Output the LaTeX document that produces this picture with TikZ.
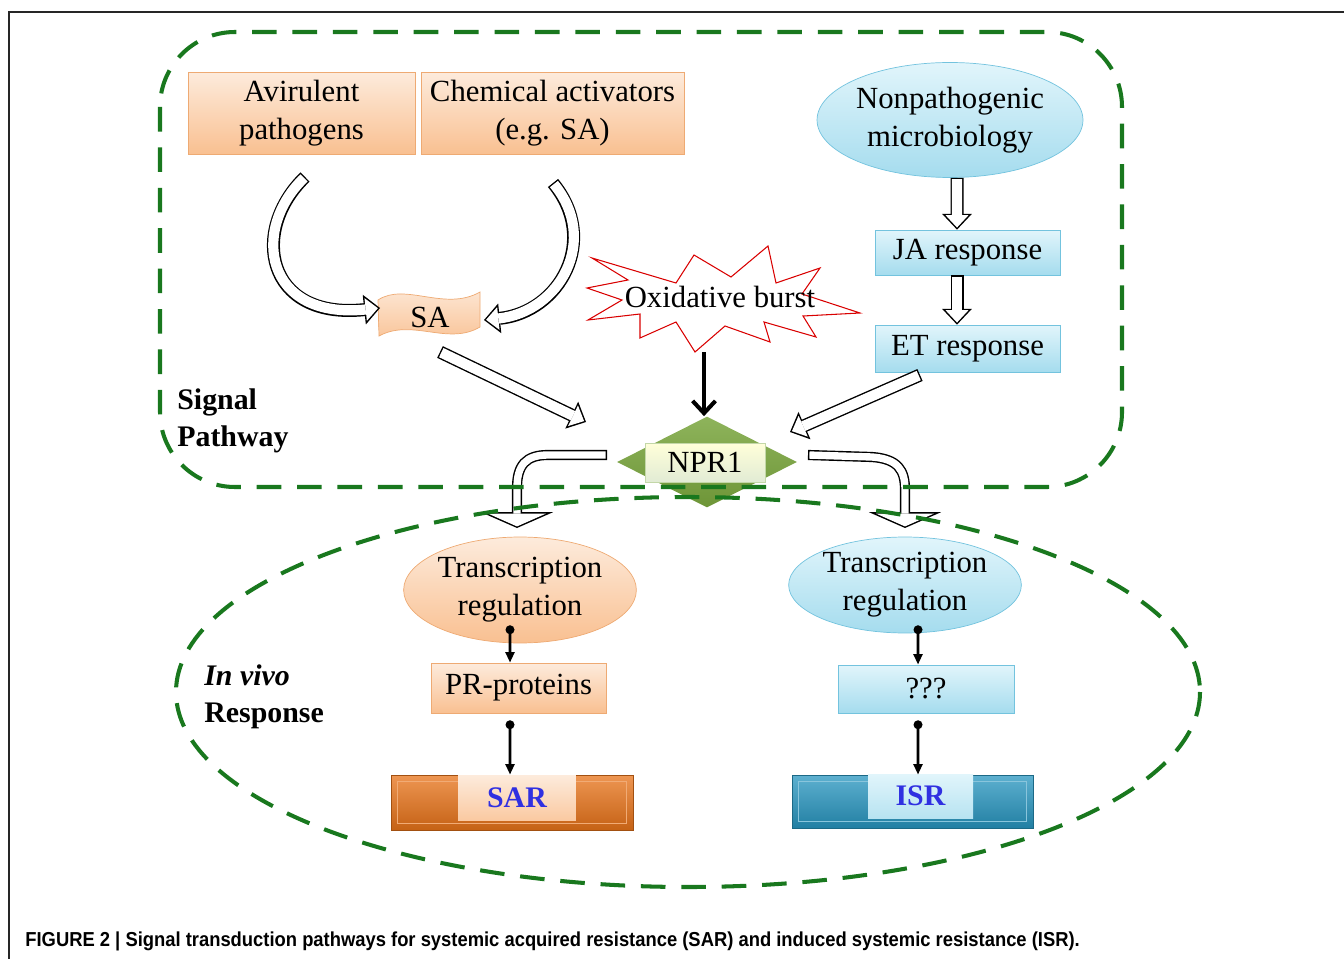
\documentclass[tikz,border=0pt]{standalone}
\usepackage{fontspec}
\setmainfont{Liberation Serif}
\newfontfamily\capfont[FakeStretch=0.91]{Liberation Sans}
\usetikzlibrary{shapes.geometric,arrows.meta}

\definecolor{sigframe}{RGB}{25,120,30}
\definecolor{orgtop}{RGB}{253,235,220}
\definecolor{orgbot}{RGB}{249,192,145}
\definecolor{orgline}{RGB}{238,170,115}
\definecolor{bluetop}{RGB}{225,245,251}
\definecolor{bluebot}{RGB}{165,220,238}
\definecolor{blueline}{RGB}{115,195,222}
\definecolor{nprgreen}{RGB}{122,166,62}
\definecolor{sarorange}{RGB}{232,115,25}
\definecolor{isrblue}{RGB}{40,150,192}
\definecolor{labblue}{RGB}{48,48,225}

\tikzset{
  orgbox/.style={rectangle, draw=orgline, top color=orgtop, bottom color=orgbot, align=center, inner sep=0pt},
  bluebox/.style={rectangle, draw=blueline, top color=bluetop, bottom color=bluebot, align=center, inner sep=0pt},
  dashframe/.style={draw=sigframe, line width=2.3pt, dash pattern=on 14pt off 9pt},
  hollowarrow/.style={draw=white, line width=5.8pt, shorten <=0.8pt, shorten >=1.2pt,
    -{Triangle[length=7pt,width=13pt,line width=0pt]},
    preaction={draw=black, line width=7.4pt, shorten <=0pt, shorten >=0pt,
      -{Triangle[length=9pt,width=17pt,line width=0pt]}}},
  widearrow/.style={draw=white, line width=4.2pt, shorten <=0.8pt, shorten >=0.9pt,
    -{Triangle[length=7.3pt,width=33pt,line width=0pt]},
    preaction={draw=black, line width=5.8pt, shorten <=0pt, shorten >=0pt,
      -{Triangle[length=9pt,width=41pt,line width=0pt]}}},
  dotarrow/.style={draw=black, line width=1.5pt, {Circle[length=5pt]}-{Triangle[length=6pt,width=5pt]}},
  labeltxt/.style={font=\bfseries\fontsize{17}{21.5}\selectfont, align=left, inner sep=0pt}
}

\begin{document}
\begin{tikzpicture}[x=0.02cm, y=-0.02cm, font=\fontsize{17.5}{21.5}\selectfont]
  \useasboundingbox (0,0) rectangle (1344,959);
  % frame
  \draw[line width=1.7pt, black!85] (1344,12) -- (9,12) -- (9,959);

  % signal pathway part
  \node[orgbox, minimum width=4.54cm, minimum height=1.64cm] (avir) at (301.5,113) {Avirulent\\pathogens};
  \node[orgbox, minimum width=5.26cm, minimum height=1.64cm] (chem) at (552.5,113) {Chemical activators\\(e.g. SA)};
  \node[ellipse, draw=blueline, top color=bluetop, bottom color=bluebot, align=center, inner sep=0pt,
    minimum width=5.32cm, minimum height=2.3cm] (nonpath) at (950,120) {Nonpathogenic\\microbiology};
  \node[bluebox, minimum width=3.7cm, minimum height=0.9cm] (ja) at (967.5,252.5) {JA response};
  \node[bluebox, minimum width=3.7cm, minimum height=0.94cm] (et) at (967.5,348.5) {ET response};

  \shade[top color=orgtop, bottom color=orgbot, draw=orgline]
    (378,300) .. controls (405,282) and (445,312) .. (480,292) -- (480,327)
    .. controls (448,346) and (412,318) .. (379,336) -- cycle;
  \node (sa) at (430,317) {SA};

  \draw[red!85!black, fill=white, line width=0.6pt] (592,258) -- (676,283) -- (694,255) -- (731,277)
    -- (768,246) -- (776,283) -- (820,268) -- (802,294) -- (860,313) -- (803,316) -- (816,337)
    -- (764,322) -- (770,342) -- (725,326) -- (695,352) -- (676,322) -- (640,338) -- (640,314)
    -- (588,320) -- (622,300) -- (587,288) -- (628,280) -- cycle;
  \node (burst) at (720,297) {Oxidative burst};

  \node[diamond, top color=nprgreen!85!white, bottom color=nprgreen!90!black, inner sep=0pt,
    minimum width=3.6cm, minimum height=1.82cm] (npr1) at (707,462) {};
  \node[rectangle, draw=nprgreen!45!white, top color=white!85!yellow, bottom color=nprgreen!22!white,
    minimum width=2.4cm, minimum height=0.78cm, inner sep=0pt] (nprlab) at (705,462.5) {NPR1};

  % in vivo part
  \node[ellipse, draw=orgline, top color=orgtop, bottom color=orgbot, align=center, inner sep=0pt,
    minimum width=4.2cm, minimum height=2.12cm] (trsar) at (520,590) {Transcription\\regulation};
  \node[ellipse, draw=blueline, top color=bluetop, bottom color=bluebot, align=center, inner sep=0pt,
    minimum width=4.3cm, minimum height=1.92cm] (trisr) at (905,585) {Transcription\\regulation};
  \node[orgbox, minimum width=3.5cm, minimum height=1.0cm] (pr) at (518.5,688) {PR-proteins};
  \node[bluebox, minimum width=3.52cm, minimum height=0.96cm] (unk) at (926,689) {???};

  \node[rectangle, draw=sarorange!70!black, top color=sarorange!75!white, bottom color=sarorange!85!black,
    minimum width=4.84cm, minimum height=1.1cm] (sarbar) at (512,802.5) {};
  \draw[sarorange!60!white, line width=0.8pt] ([xshift=4pt,yshift=-4pt]sarbar.north west) rectangle ([xshift=-4pt,yshift=4pt]sarbar.south east);
  \node[rectangle, top color=orgtop, bottom color=orgbot!85!white, minimum width=2.36cm, minimum height=0.9cm,
    inner sep=0pt, font=\bfseries\fontsize{17}{20}\selectfont, text=labblue] (sar) at (517,797.5) {SAR};
  \node[rectangle, draw=isrblue!70!black, top color=isrblue!75!white, bottom color=isrblue!85!black,
    minimum width=4.82cm, minimum height=1.06cm] (isrbar) at (912.5,801.5) {};
  \draw[isrblue!55!white, line width=0.8pt] ([xshift=4pt,yshift=-4pt]isrbar.north west) rectangle ([xshift=-4pt,yshift=4pt]isrbar.south east);
  \node[rectangle, top color=bluetop, bottom color=bluebot!80!white, minimum width=2.1cm, minimum height=0.88cm,
    inner sep=0pt, font=\bfseries\fontsize{17}{20}\selectfont, text=labblue] (isr) at (920.5,796) {ISR};

  % arrows
  \coordinate (avout) at (305,177);
  \coordinate (chout) at (553,183);
  \coordinate (sain) at (380,308);
  \coordinate (sain2) at (484,320);
  \draw[hollowarrow] (avout) .. controls (250,230) and (265,320) .. (sain);
  \draw[hollowarrow] (chout) .. controls (600,240) and (560,312) .. (sain2);
  \draw[hollowarrow] ([xshift=0.14cm]nonpath.south) -- ([xshift=-0.21cm]ja.north);
  \draw[hollowarrow] ([xshift=-0.21cm]ja.south) -- ([xshift=-0.21cm]et.north);

  \coordinate (saout) at (440,352);
  \coordinate (nprin1) at (586,422);
  \coordinate (etout) at (920,375);
  \coordinate (nprin2) at (790,432);
  \draw[hollowarrow] (saout) -- (nprin1);
  \draw[hollowarrow] (etout) -- (nprin2);

  \coordinate (burstout) at (704,352);
  \draw[line width=2.3pt, -{Straight Barb[length=7pt,width=13pt]}] (burstout) -- (npr1.north -| burstout);

  \coordinate (nprl) at (607,455);
  \coordinate (nprr) at (808,455);
  \coordinate (trsarin) at (517,528);
  \coordinate (trisrin) at (905,528);
  \draw[widearrow] (nprl) -- (548,455) .. controls (526,455) and (517,465) .. (517,488) -- (trsarin);
  \draw[widearrow] (nprr) -- (872,457) .. controls (898,459) and (905,470) .. (905,490) -- (trisrin);

  \draw[dotarrow] ([xshift=-0.2cm,yshift=0.36cm]trsar.south) -- ([xshift=-0.17cm]pr.north);
  \draw[dotarrow] ([xshift=-0.17cm,yshift=-0.14cm]pr.south) -- ([xshift=-0.04cm]sarbar.north);
  \draw[dotarrow] ([xshift=0.26cm,yshift=0.16cm]trisr.south) -- ([xshift=-0.16cm]unk.north);
  \draw[dotarrow] ([xshift=-0.16cm,yshift=-0.14cm]unk.south) -- ([xshift=0.11cm]isrbar.north);

  % dashed regions
  \draw[dashframe, rounded corners=1.5cm] (160,32) rectangle (1122,487);
  \draw[dashframe] (688,692) ellipse [x radius=512, y radius=195];

  \node[labeltxt, anchor=north west] (sigl) at (177,388) {Signal\\Pathway};
  \node[labeltxt, anchor=north west] (vivol) at (204,664) {\textit{In vivo}\\Response};

  \node[anchor=base west, inner sep=0pt, font=\capfont\bfseries\fontsize{11.5}{13}\selectfont] (caption) at (25,946)
    {FIGURE 2 | Signal transduction pathways for systemic acquired resistance (SAR) and induced systemic resistance (ISR).};
\end{tikzpicture}
\end{document}
